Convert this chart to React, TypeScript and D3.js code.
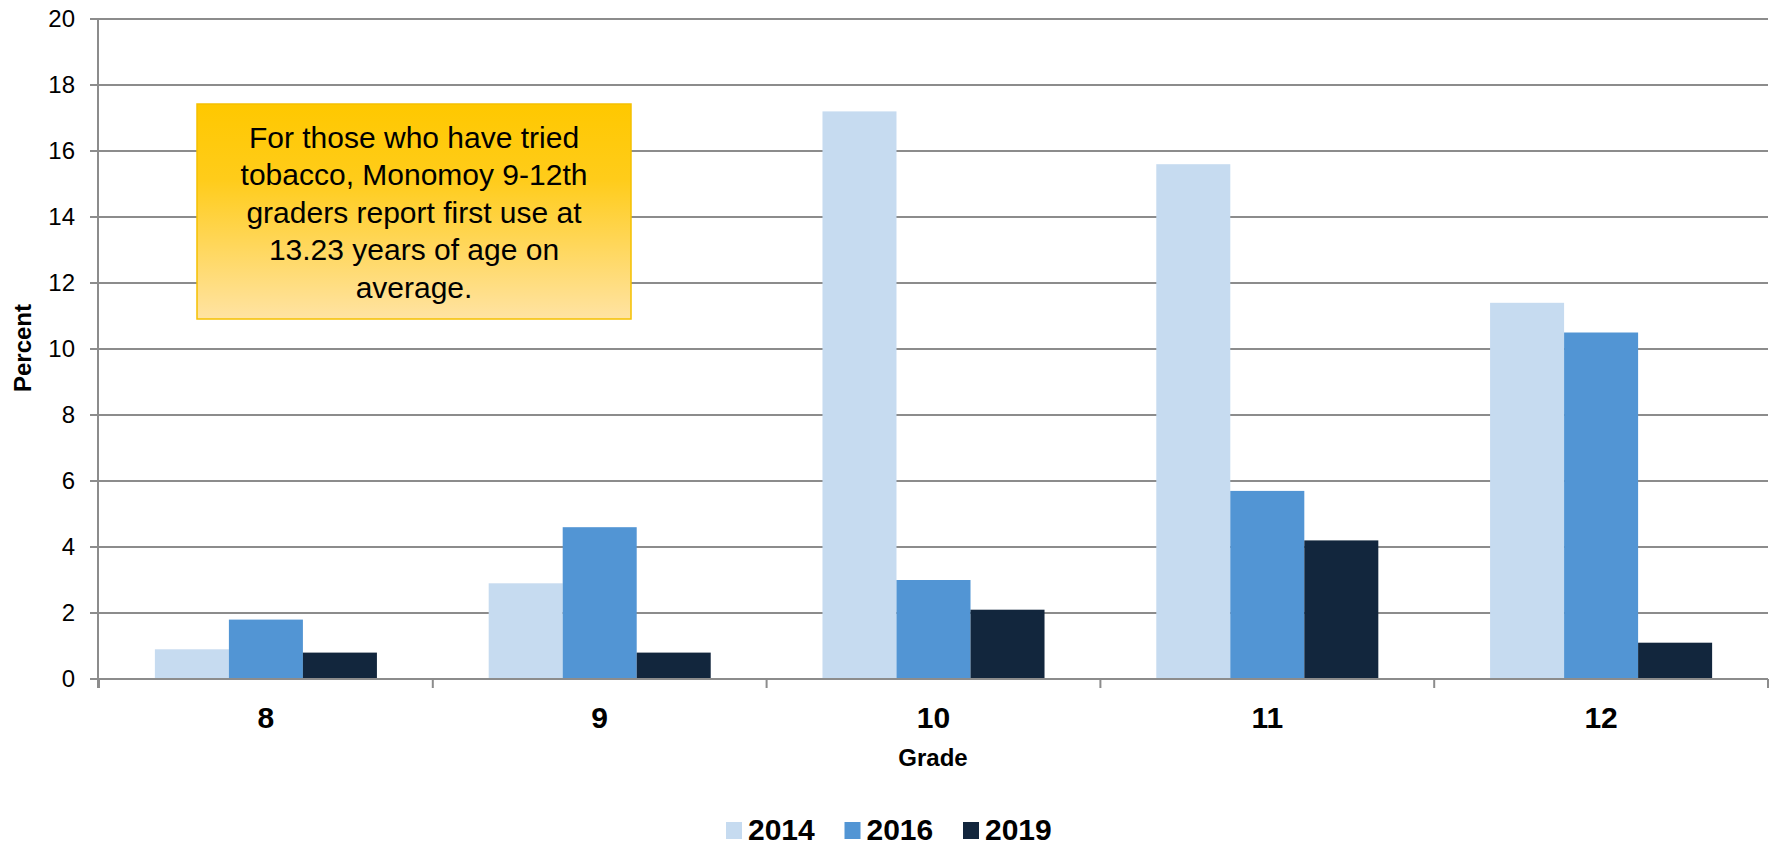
import React from 'react';
import * as d3 from 'd3';

// Grades on the x axis and survey years as series
const grades = ['8', '9', '10', '11', '12'];
const years = ['2014', '2016', '2019'];
const values2014 = [0.9, 2.9, 17.2, 15.6, 11.4];
const values2016 = [1.8, 4.6, 3.0, 5.7, 10.5];
const values2019 = [0.8, 0.8, 2.1, 4.2, 1.1];
const yTicks = [0, 2, 4, 6, 8, 10, 12, 14, 16, 18, 20];
const noteLines = [
  'For those who have tried',
  'tobacco, Monomoy 9-12th',
  'graders report first use at',
  '13.23 years of age on',
  'average.',
];

const COLORS = ['#C6DBF0', '#5295D4', '#12263D'];
const GRID = '#8c8c8c';
const FONT = 'Arial, "Liberation Sans", Helvetica, sans-serif';

const width = 1777;
const height = 846;
const margin = { top: 19, right: 9, bottom: 167, left: 99 };

export default function App() {
  const series = [values2014, values2016, values2019];
  const innerBottom = height - margin.bottom;

  const x = d3.scaleBand<string>()
    .domain(grades)
    .range([margin.left, width - margin.right])
    .padding(0);

  const xInner = d3.scaleBand<string>()
    .domain(years)
    .range([0, x.bandwidth()])
    .paddingInner(0)
    .paddingOuter(0.755);

  const y = d3.scaleLinear()
    .domain([0, 20])
    .range([innerBottom, margin.top]);

  // category boundaries for the x tick marks
  const boundaries = grades.map(g => x(g) as number).concat([width - margin.right]);

  // annotation box
  const box = { x: 197, y: 104, w: 434, h: 215 };

  return (
    <svg
      width={width}
      height={height}
      viewBox={`0 0 ${width} ${height}`}
      style={{ position: 'absolute', left: 0, top: 0, display: 'block', background: '#fff' }}
      fontFamily={FONT}
    >
      <defs>
        <linearGradient id="noteFill" x1="0" y1="0" x2="0" y2="1">
          <stop offset="0%" stopColor="#FFC800" />
          <stop offset="35%" stopColor="#FFCC1A" />
          <stop offset="100%" stopColor="#FFE3A3" />
        </linearGradient>
      </defs>

      {/* horizontal grid */}
      {yTicks.map(t => (
        <line
          key={`g${t}`}
          x1={margin.left - 9}
          x2={width - margin.right}
          y1={y(t)}
          y2={y(t)}
          stroke={GRID}
          strokeWidth={2}
        />
      ))}

      {/* y tick labels */}
      {yTicks.map(t => (
        <text
          key={`yt${t}`}
          x={75}
          y={y(t)}
          dy="0.35em"
          textAnchor="end"
          fontSize={24}
          fill="#000"
        >
          {t}
        </text>
      ))}

      {/* bars */}
      {grades.map((g, gi) => (
        <g key={g} transform={`translate(${x(g)},0)`}>
          {years.map((yr, si) => (
            <rect
              key={yr}
              x={xInner(yr)}
              y={y(series[si][gi])}
              width={xInner.bandwidth()}
              height={innerBottom - y(series[si][gi])}
              fill={COLORS[si]}
            />
          ))}
        </g>
      ))}

      {/* axes */}
      <line x1={margin.left - 1} x2={margin.left - 1} y1={margin.top} y2={innerBottom + 9} stroke={GRID} strokeWidth={2} />
      <line x1={margin.left} x2={width - margin.right} y1={innerBottom} y2={innerBottom} stroke={GRID} strokeWidth={2} />
      {boundaries.map((b, i) => (
        <line key={`xt${i}`} x1={b} x2={b} y1={innerBottom} y2={innerBottom + 9} stroke={GRID} strokeWidth={2} />
      ))}

      {/* x tick labels */}
      {grades.map(g => (
        <text
          key={`xl${g}`}
          x={(x(g) as number) + x.bandwidth() / 2}
          y={717}
          dy="0.35em"
          textAnchor="middle"
          fontSize={30}
          fontWeight="bold"
          fill="#000"
        >
          {g}
        </text>
      ))}

      {/* axis titles */}
      <text x={933} y={758} dy="0.35em" textAnchor="middle" fontSize={24} fontWeight="bold">
        Grade
      </text>
      <text
        transform={`translate(23,348) rotate(-90)`}
        dy="0.35em"
        textAnchor="middle"
        fontSize={24}
        fontWeight="bold"
      >
        Percent
      </text>

      {/* annotation */}
      <rect x={box.x} y={box.y} width={box.w} height={box.h} fill="url(#noteFill)" stroke="#F5C000" strokeWidth={1.5} />
      {noteLines.map((ln, i) => (
        <text
          key={`n${i}`}
          x={box.x + box.w / 2}
          y={137 + i * 37.5}
          dy="0.35em"
          textAnchor="middle"
          fontSize={30}
          fill="#000"
        >
          {ln}
        </text>
      ))}

      {/* legend */}
      {years.map((yr, i) => {
        const lx = 726 + i * 118.5;
        return (
          <g key={`lg${yr}`} transform={`translate(${lx},829)`}>
            <rect x={0} y={-7} width={16} height={17} fill={COLORS[i]} />
            <text x={22} y={0} dy="0.35em" fontSize={30} fontWeight="bold" fill="#000">
              {yr}
            </text>
          </g>
        );
      })}
    </svg>
  );
}
